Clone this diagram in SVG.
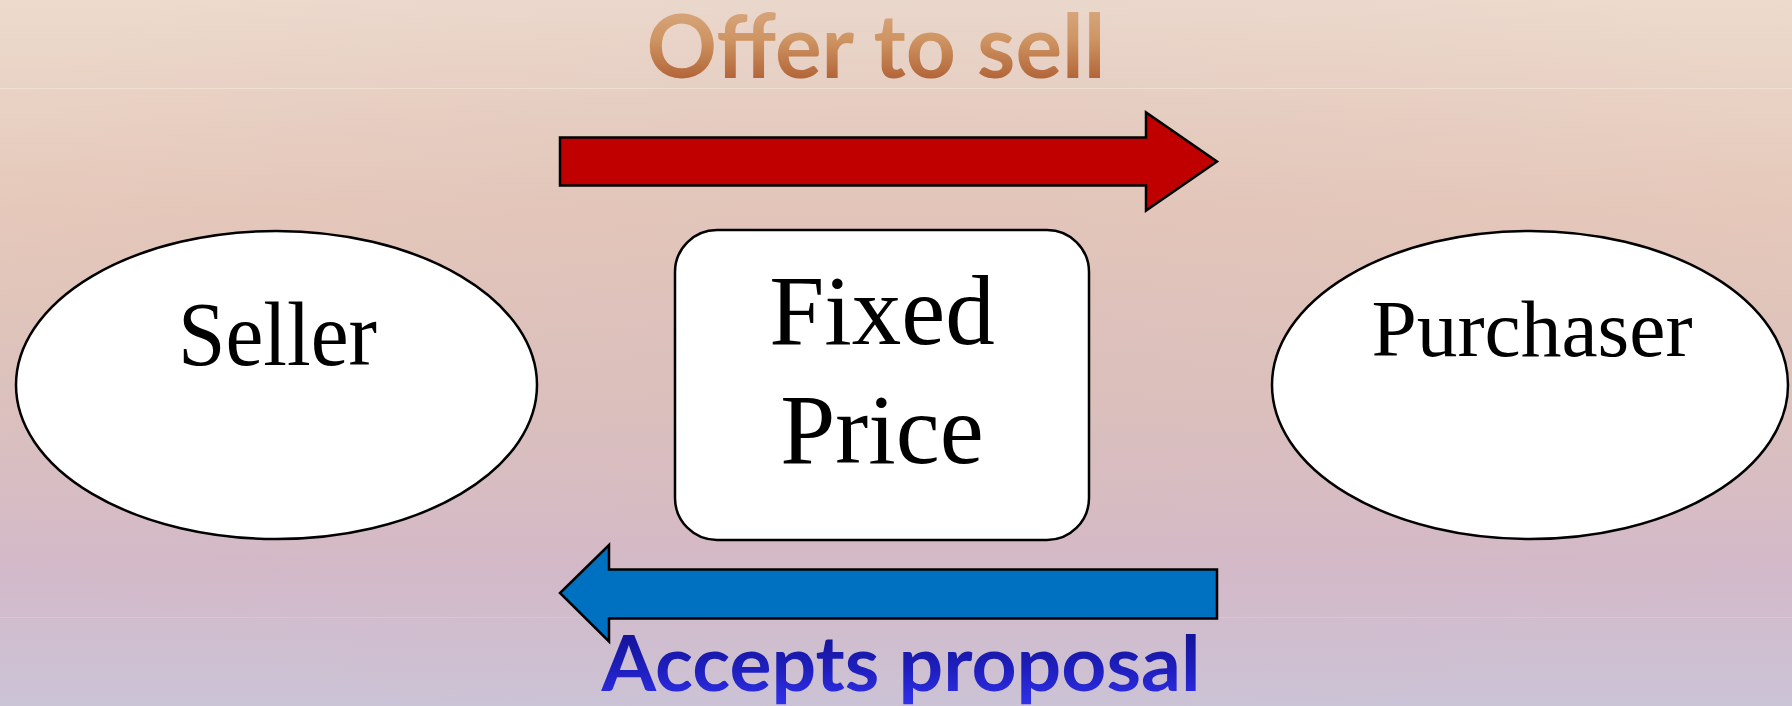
<svg xmlns="http://www.w3.org/2000/svg" width="1792" height="706" viewBox="0 0 1792 706">
  <defs>
    <linearGradient id="bg" x1="0" y1="0" x2="0" y2="1">
      <stop offset="0" stop-color="#ecdacd"/>
      <stop offset="0.3" stop-color="#e6c9ba"/>
      <stop offset="0.55" stop-color="#dcc2bd"/>
      <stop offset="0.8" stop-color="#d3b9c9"/>
      <stop offset="1" stop-color="#cbc3d6"/>
    </linearGradient>
    <radialGradient id="glow" cx="0.5" cy="0.45" r="0.6">
      <stop offset="0" stop-color="#d8b8b8" stop-opacity="0.35"/>
      <stop offset="1" stop-color="#d8b8b8" stop-opacity="0"/>
    </radialGradient>
    <linearGradient id="titleTop" x1="0" y1="0" x2="0" y2="1">
      <stop offset="0" stop-color="#dcb08e"/>
      <stop offset="0.45" stop-color="#cf9563"/>
      <stop offset="1" stop-color="#a54f24"/>
    </linearGradient>
    <linearGradient id="titleBottom" x1="0" y1="0" x2="0" y2="1">
      <stop offset="0" stop-color="#0e0e86"/>
      <stop offset="0.6" stop-color="#1f1fc0"/>
      <stop offset="1" stop-color="#3232ee"/>
    </linearGradient>
    <style>
      .node { fill: #ffffff; stroke: #000000; stroke-width: 2.5; }
      .label { font-family: "Liberation Serif", "DejaVu Serif", serif; fill: #000000; text-anchor: middle; }
      .arrow { stroke: #000000; stroke-width: 2.5; stroke-linejoin: miter; }
      .caption { font-family: Lato, "Open Sans", "Liberation Sans", sans-serif; font-weight: bold; text-anchor: middle; }
    </style>
  </defs>

  <!-- background -->
  <rect x="0" y="0" width="1792" height="706" fill="url(#bg)"/>
  <rect x="0" y="0" width="1792" height="706" fill="url(#glow)"/>
  <line x1="0" y1="88.5" x2="1792" y2="88.5" stroke="#f2e2d6" stroke-width="1" opacity="0.8"/>
  <line x1="0" y1="617.5" x2="1792" y2="617.5" stroke="#dcc9d8" stroke-width="1" opacity="0.8"/>

  <!-- captions -->
  <text class="caption" x="876" y="78" font-size="88" fill="url(#titleTop)" textLength="459" lengthAdjust="spacingAndGlyphs">Offer to sell</text>
  <text class="caption" x="901" y="691" font-size="76" fill="url(#titleBottom)" textLength="599" lengthAdjust="spacingAndGlyphs">Accepts proposal</text>

  <!-- connectors -->
  <g id="connectors">
    <path class="arrow" fill="#c00000" d="M560,137.5 L1146,137.5 L1146,112.5 L1217,161.5 L1146,210.5 L1146,185.5 L560,185.5 Z"/>
    <path class="arrow" fill="#0070c0" d="M1217,569.5 L609,569.5 L609,545 L560,593 L609,641.5 L609,618.5 L1217,618.5 Z"/>
  </g>

  <!-- nodes -->
  <g id="seller">
    <ellipse class="node" cx="276.5" cy="385" rx="260.5" ry="154"/>
    <text class="label" x="277.5" y="365" font-size="90" textLength="199" lengthAdjust="spacingAndGlyphs">Seller</text>
  </g>

  <g id="fixed-price">
    <rect class="node" x="675" y="230" width="414" height="310" rx="42" ry="42"/>
    <text class="label" x="882" y="344" font-size="99">Fixed</text>
    <text class="label" x="882" y="463" font-size="99">Price</text>
  </g>

  <g id="purchaser">
    <ellipse class="node" cx="1530" cy="385" rx="258" ry="154"/>
    <text class="label" x="1532" y="356" font-size="80" textLength="321" lengthAdjust="spacingAndGlyphs">Purchaser</text>
  </g>
</svg>
